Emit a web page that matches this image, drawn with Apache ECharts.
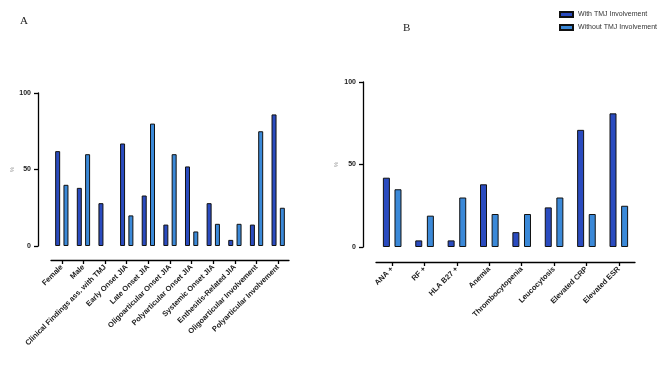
<!DOCTYPE html>
<html>
<head>
<meta charset="utf-8">
<script src="https://cdn.jsdelivr.net/npm/echarts@6/dist/echarts.min.js"></script>
<style>
html,body{margin:0;padding:0;background:#fff;}
#c{width:669px;height:376px;}
</style>
</head>
<body>
<div id="c"></div>
<script>
var seriesNames = ['With TMJ Involvement', 'Without TMJ Involvement'];

var catsA = ['Female', 'Male', 'Clinical Findings ass. with TMJ', 'Early Onset JIA', 'Late Onset JIA',
  'Oligoarticular Onset JIA', 'Polyarticular Onset JIA', 'Systemic Onset JIA', 'Enthesitis-Related JIA',
  'Oligoarticular Involvement', 'Polyarticular Involvement'];
var withA = [62, 38, 28, 67, 33, 14, 52, 28, 4, 14, 86];
var withoutA = [40, 60, null, 20, 80, 60, 9.5, 14.5, 14.5, 75, 25];

var catsB = ['ANA +', 'RF +', 'HLA B27 +', 'Anemia', 'Thrombocytopenia', 'Leucocytosis', 'Elevated CRP', 'Elevated ESR'];
var withB = [42, 4, 4, 38, 9, 24, 71, 81];
var withoutB = [35, 19, 30, 20, 20, 30, 20, 25];

var yTicks = [0, 50, 100];

var dark = '#2a4bbf';
var light = '#3b89d8';

function yAx(gridIndex, offset, nameGap) {
  return {
    type: 'value', gridIndex: gridIndex, min: yTicks[0], max: yTicks[yTicks.length - 1], interval: 50,
    offset: offset,
    name: '%', nameLocation: 'middle', nameRotate: 90, nameGap: nameGap,
    nameTextStyle: {fontSize: 6, color: '#999', fontFamily: 'Liberation Sans'},
    axisLine: {show: true, onZero: false, lineStyle: {color: '#000', width: 1.3}},
    axisTick: {show: true, length: 4, lineStyle: {color: '#000', width: 1.3}},
    axisLabel: {fontSize: 7, fontWeight: 'bold', color: '#222', margin: 7, fontFamily: 'Liberation Sans'},
    splitLine: {show: false}
  };
}
function xAx(gridIndex, data, offset) {
  return {
    type: 'category', gridIndex: gridIndex, data: data, offset: offset,
    axisLine: {show: true, onZero: false, lineStyle: {color: '#000', width: 1.3}},
    axisTick: {show: true, alignWithLabel: true, length: 4, lineStyle: {color: '#000', width: 1.3}},
    axisLabel: {rotate: 45, fontSize: 7.5, fontWeight: 'bold', color: '#222', margin: 6,
      interval: 0, fontFamily: 'Liberation Sans'}
  };
}
function bar(name, data, xi, color, bw) {
  return {
    name: name, type: 'bar', xAxisIndex: xi, yAxisIndex: xi, data: data,
    barWidth: bw, barGap: '66%',
    itemStyle: {color: color, borderColor: '#111', borderWidth: 1}
  };
}

var chart = echarts.init(document.getElementById('c'), null, {renderer: 'canvas'});
chart.setOption({
  animation: false,
  backgroundColor: '#fff',
  title: [
    {text: 'A', left: 15, top: 11, textStyle: {fontFamily: 'Liberation Serif', fontWeight: 'normal', fontSize: 11, color: '#222'}},
    {text: 'B', left: 398, top: 18, textStyle: {fontFamily: 'Liberation Serif', fontWeight: 'normal', fontSize: 11, color: '#222'}}
  ],
  legend: {
    orient: 'vertical', left: 554, top: 6, itemWidth: 13, itemHeight: 5, itemGap: 6,
    icon: 'rect',
    textStyle: {fontSize: 7, color: '#333', fontFamily: 'Liberation Sans'},
    data: seriesNames
  },
  grid: [
    {left: 51, top: 93, width: 238, height: 153},
    {left: 376, top: 82, width: 259, height: 165}
  ],
  xAxis: [xAx(0, catsA, 14), xAx(1, catsB, 15)],
  yAxis: [yAx(0, 13, 21), yAx(1, 13, 24)],
  series: [
    bar(seriesNames[0], withA, 0, dark, 5),
    bar(seriesNames[1], withoutA, 0, light, 5),
    bar(seriesNames[0], withB, 1, dark, 7),
    bar(seriesNames[1], withoutB, 1, light, 7)
  ]
});
</script>
</body>
</html>
